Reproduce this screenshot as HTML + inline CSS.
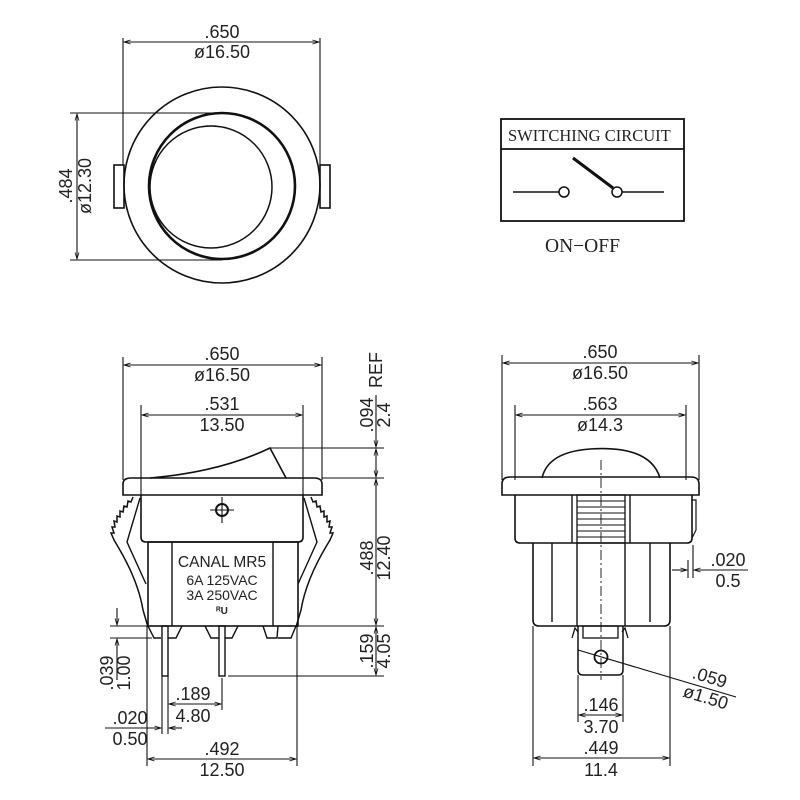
<!DOCTYPE html>
<html><head><meta charset="utf-8"><style>
html,body{margin:0;padding:0;background:#fff;}
svg{display:block;}
text{font-family:"Liberation Sans",sans-serif;fill:#222;}
.d{font-size:18px;}
.s{font-family:"Liberation Serif",serif;}
</style></head><body>
<svg width="800" height="800" viewBox="0 0 800 800" xmlns="http://www.w3.org/2000/svg">
<defs>
<marker id="a" viewBox="0 0 10 10" refX="10" refY="5" markerWidth="8" markerHeight="6" orient="auto-start-reverse"><path d="M0,2 L10,5 L0,8" fill="none" stroke="#111" stroke-width="1.2"/></marker>
</defs>
<g fill="none" stroke="#111" stroke-width="1.1">
<!-- TOP VIEW -->
<line x1="123" y1="38" x2="123" y2="165"/><line x1="320" y1="38" x2="320" y2="165"/>
<line x1="124" y1="42" x2="319" y2="42" marker-start="url(#a)" marker-end="url(#a)"/>
<circle cx="222" cy="185" r="98" stroke-width="1.6"/>
<circle cx="222" cy="186" r="73" stroke-width="2.6"/>
<circle cx="211" cy="187" r="61" stroke-width="1.5"/>
<rect x="114" y="165" width="10" height="43" stroke-width="1.6"/>
<rect x="320" y="165" width="10" height="43" stroke-width="1.6"/>
<line x1="70" y1="113" x2="222" y2="113"/><line x1="70" y1="260" x2="222" y2="260"/>
<line x1="77" y1="114" x2="77" y2="259" marker-start="url(#a)" marker-end="url(#a)"/>

<!-- SWITCHING CIRCUIT -->
<rect x="501" y="119" width="183" height="102" stroke-width="1.8"/>
<line x1="501" y1="149" x2="684" y2="149" stroke-width="1.8"/>
<line x1="513" y1="192" x2="559" y2="192" stroke-width="1.5"/>
<circle cx="564" cy="192" r="5" stroke-width="1.5"/>
<circle cx="617" cy="192" r="5" stroke-width="1.5"/>
<line x1="622" y1="192" x2="664" y2="192" stroke-width="1.5"/>
<line x1="573" y1="158" x2="613" y2="188" stroke-width="3"/>

<!-- FRONT VIEW -->
<line x1="123" y1="357" x2="123" y2="480"/><line x1="322" y1="357" x2="322" y2="480"/>
<line x1="124" y1="365" x2="321" y2="365" marker-start="url(#a)" marker-end="url(#a)"/>
<line x1="141" y1="405" x2="141" y2="495"/><line x1="303" y1="405" x2="303" y2="495"/>
<line x1="142" y1="415" x2="302" y2="415" marker-start="url(#a)" marker-end="url(#a)"/>
<path d="M150,478 Q220,472 270,448 L286,478" stroke-width="1.6"/>
<path d="M123,495 L123,484 Q123,478 131,478 L314,478 Q322,478 322,484 L322,495 Z" stroke-width="1.6"/>
<path d="M141,495 L141,537 Q141,542 146,542 L298,542 Q303,542 303,537 L303,495" stroke-width="1.6"/>
<rect x="148" y="542" width="150" height="84" stroke-width="1.6"/>
<line x1="172" y1="542" x2="172" y2="626" stroke-width="1.4"/>
<line x1="273" y1="542" x2="273" y2="626" stroke-width="1.4"/>
<circle cx="222" cy="510" r="6" stroke-width="2"/>
<line x1="210" y1="510" x2="234" y2="510"/><line x1="222" y1="497" x2="222" y2="523"/>
<!-- clips -->
<path d="M133,497 L131,502 L128,501 L127,507 L124,506 L123,512 L120,511 L120,517 L117,516 L117,522 L114,521 L115,527 L112,527 L114,533 L111,533 L114,540 L117,545 Q138,580 143,610 L148,627" stroke-width="1.5"/>
<path d="M140,498 L127,542 L146,584" stroke-width="1.4"/>
<path d="M311,497 L313,502 L316,501 L317,507 L320,506 L321,512 L324,511 L324,517 L327,516 L327,522 L330,521 L329,527 L332,527 L330,533 L333,533 L330,540 L327,545 Q306,580 301,610 L296,627" stroke-width="1.5"/>
<path d="M304,498 L317,542 L298,584" stroke-width="1.4"/>
<!-- feet -->
<path d="M148,626 L154,638 L161,638 M168,638 L176,638 L182,626" stroke-width="1.4"/>
<path d="M205,626 L211,638 L219,638 M225,638 L232,638 L238,626" stroke-width="1.4"/>
<path d="M263,626 L267,638 L277,638 L278,626 M278,638 L291,638 L296,626" stroke-width="1.4"/>
<rect x="162" y="626" width="6" height="50" stroke-width="1.4"/>
<rect x="219" y="626" width="6" height="50" stroke-width="1.4"/>
<!-- right dims -->
<line x1="270" y1="448" x2="384" y2="448"/><line x1="322" y1="478" x2="384" y2="478"/>
<line x1="376" y1="395" x2="376" y2="447" marker-end="url(#a)"/>
<line x1="376" y1="449" x2="376" y2="477" marker-start="url(#a)" marker-end="url(#a)"/>
<line x1="376" y1="479" x2="376" y2="625" marker-start="url(#a)" marker-end="url(#a)"/>
<line x1="298" y1="626" x2="384" y2="626"/>
<line x1="376" y1="627" x2="376" y2="675" marker-start="url(#a)" marker-end="url(#a)"/>
<line x1="228" y1="676" x2="384" y2="676"/>
<!-- left bottom dims -->
<line x1="110" y1="626" x2="150" y2="626"/><line x1="110" y1="638" x2="152" y2="638"/>
<line x1="117" y1="608" x2="117" y2="625" marker-end="url(#a)"/>
<line x1="117" y1="639" x2="117" y2="680" marker-start="url(#a)"/>
<line x1="147" y1="626" x2="147" y2="766"/><line x1="297" y1="626" x2="297" y2="766"/>
<line x1="162" y1="676" x2="162" y2="734"/><line x1="168" y1="676" x2="168" y2="734"/>
<line x1="222" y1="678" x2="222" y2="710"/>
<line x1="169" y1="704" x2="221" y2="704" marker-start="url(#a)" marker-end="url(#a)"/>
<line x1="105" y1="728" x2="161" y2="728" marker-end="url(#a)"/>
<line x1="169" y1="728" x2="182" y2="728" marker-start="url(#a)"/>
<line x1="148" y1="759" x2="296" y2="759" marker-start="url(#a)" marker-end="url(#a)"/>

<!-- SIDE VIEW -->
<line x1="502" y1="355" x2="502" y2="480"/><line x1="699" y1="355" x2="699" y2="480"/>
<line x1="503" y1="363" x2="698" y2="363" marker-start="url(#a)" marker-end="url(#a)"/>
<line x1="515" y1="405" x2="515" y2="480"/><line x1="686" y1="405" x2="686" y2="480"/>
<line x1="516" y1="415" x2="685" y2="415" marker-start="url(#a)" marker-end="url(#a)"/>
<path d="M542,478 Q548,452 590,449 Q650,445 660,478" stroke-width="1.6"/>
<path d="M502,495 L502,484 Q502,477 510,477 L691,477 Q699,477 699,484 L699,495 Z" stroke-width="1.6"/>
<path d="M515,495 L515,538 Q515,543 520,543 L687,543 Q692,543 692,538 L692,495" stroke-width="1.6"/>
<path d="M692,500 L696,500 L696,530 L692,538" stroke-width="1.2"/>
<line x1="572" y1="495" x2="572" y2="543" stroke-width="1.4"/>
<line x1="630" y1="495" x2="630" y2="543" stroke-width="1.4"/>
<rect x="577" y="495" width="48" height="48" stroke-width="1.3"/>
<g stroke-width="1.1">
<line x1="577" y1="501" x2="625" y2="501"/><line x1="577" y1="507" x2="625" y2="507"/>
<line x1="577" y1="513" x2="625" y2="513"/><line x1="577" y1="519" x2="625" y2="519"/>
<line x1="577" y1="525" x2="625" y2="525"/><line x1="577" y1="531" x2="625" y2="531"/>
<line x1="577" y1="537" x2="625" y2="537"/>
</g>
<path d="M533,543 L533,620 Q533,626 539,626 L664,626 Q670,626 670,620 L670,543" stroke-width="1.6"/>
<line x1="552" y1="543" x2="552" y2="622" stroke-width="1.4"/>
<line x1="577" y1="543" x2="577" y2="626" stroke-width="1.4"/>
<line x1="625" y1="543" x2="625" y2="626" stroke-width="1.4"/>
<line x1="650" y1="543" x2="650" y2="622" stroke-width="1.4"/>
<line x1="601" y1="460" x2="601" y2="680" stroke-dasharray="10,3,2,3" stroke-width="0.9"/>
<path d="M578,626 L578,670 Q578,675 583,675 L618,675 Q623,675 623,670 L623,626" stroke-width="1.5"/>
<rect x="583" y="626" width="35" height="12" stroke-width="1.3"/>
<path d="M572,638 L575,628 L578,632 M628,638 L625,628 L622,632" stroke-width="1.3"/>
<circle cx="601" cy="657" r="6.5" stroke-width="1.8"/>
<line x1="578" y1="650" x2="736" y2="697"/>
<line x1="688" y1="560" x2="688" y2="578"/><line x1="693" y1="545" x2="693" y2="578"/>
<line x1="672" y1="570" x2="687" y2="570" marker-end="url(#a)"/>
<line x1="694" y1="570" x2="748" y2="570" marker-start="url(#a)"/>
<line x1="533" y1="626" x2="533" y2="766"/><line x1="670" y1="626" x2="670" y2="766"/>
<line x1="578" y1="675" x2="578" y2="722"/><line x1="623" y1="675" x2="623" y2="722"/>
<line x1="579" y1="715" x2="622" y2="715" marker-start="url(#a)" marker-end="url(#a)"/>
<line x1="534" y1="758" x2="669" y2="758" marker-start="url(#a)" marker-end="url(#a)"/>
</g>

<!-- TEXT -->
<g class="d" text-anchor="middle">
<text x="222" y="38">.650</text><text x="222" y="58">ø16.50</text>
<text transform="translate(72,186) rotate(-90)">.484</text>
<text transform="translate(91,186) rotate(-90)">ø12.30</text>

<text x="222" y="360">.650</text><text x="222" y="381">ø16.50</text>
<text x="222" y="410">.531</text><text x="222" y="431">13.50</text>
<text transform="translate(382,370) rotate(-90)">REF</text>
<text transform="translate(373,415) rotate(-90)">.094</text>
<text transform="translate(390,415) rotate(-90)">2.4</text>
<text transform="translate(373,558) rotate(-90)">.488</text>
<text transform="translate(390,558) rotate(-90)">12.40</text>
<text transform="translate(373,651) rotate(-90)">.159</text>
<text transform="translate(390,651) rotate(-90)">4.05</text>
<text transform="translate(113,673) rotate(-90)">.039</text>
<text transform="translate(130,673) rotate(-90)">1.00</text>
<text x="193" y="700">.189</text><text x="193" y="722">4.80</text>
<text x="130" y="724">.020</text><text x="130" y="745">0.50</text>
<text x="222" y="755">.492</text><text x="222" y="776">12.50</text>

<text x="600" y="358">.650</text><text x="600" y="379">ø16.50</text>
<text x="600" y="410">.563</text><text x="600" y="431">ø14.3</text>
<text x="728" y="566">.020</text><text x="728" y="587">0.5</text>
<text x="601" y="711">.146</text><text x="601" y="733">3.70</text>
<text x="601" y="754">.449</text><text x="601" y="776">11.4</text>
<text transform="translate(708,683) rotate(17)">.059</text>
<text transform="translate(704,703) rotate(17)">ø1.50</text>
</g>
<text x="222" y="567" font-size="15.5" text-anchor="middle">CANAL  MR5</text>
<text x="222" y="585" font-size="14" text-anchor="middle">6A 125VAC</text>
<text x="222" y="600" font-size="14" text-anchor="middle">3A 250VAC</text>
<text x="222" y="614" font-size="10" font-weight="bold" text-anchor="middle">ᴿU</text>
<text class="s" x="508" y="141" font-size="16.5">SWITCHING CIRCUIT</text>
<text class="s" x="545" y="252" font-size="19.5">ON−OFF</text>
</svg>
</body></html>
